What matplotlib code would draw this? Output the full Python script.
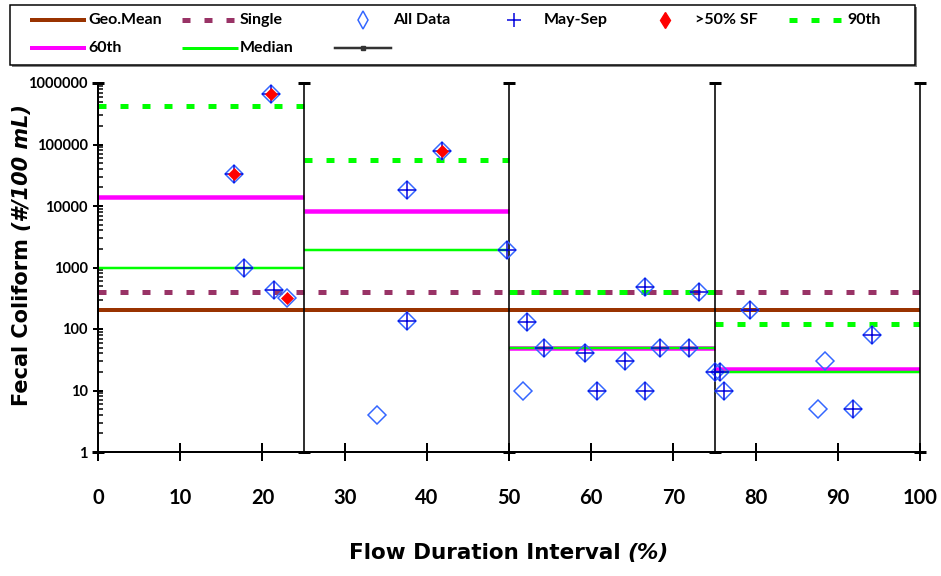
import matplotlib
matplotlib.use("Agg")
import matplotlib.pyplot as plt
from matplotlib.lines import Line2D
from matplotlib.patches import Rectangle
from matplotlib.ticker import FixedLocator, FuncFormatter, LogLocator, NullFormatter

# ---------------- data ----------------
bounds = [0, 25, 50, 75, 100]                 # flow duration zones (%)
geo_mean = 200                                 # geometric mean criterion
single_sample = 400                            # single sample criterion
p90 = [430000, 57000, 400, 120]                # 90th percentile per zone
p60 = [14000, 8300, 50, 22]                    # 60th percentile per zone
median = [1000, 1900, 50, 20]                  # median per zone

all_x = [16.6, 17.8, 21.1, 21.4, 23.0, 33.9, 37.6, 37.6, 41.9, 49.7,
         51.7, 52.2, 54.3, 59.3, 60.7, 64.1, 66.5, 66.5, 68.4, 71.9,
         73.1, 75.1, 75.7, 76.1, 79.3, 87.6, 88.4, 91.9, 94.2]
all_y = [33000, 1000, 660000, 430, 320, 4, 18000, 135, 78000, 1900,
         10, 130, 50, 40, 10, 30, 490, 10, 50, 50,
         400, 20, 20, 10, 200, 5, 30, 5, 80]

ms_x = [16.6, 17.8, 21.1, 21.4, 37.6, 37.6, 41.9, 49.7,
        52.2, 54.3, 59.3, 60.7, 64.1, 66.5, 66.5, 68.4, 71.9,
        73.1, 75.1, 75.7, 76.1, 79.3, 91.9, 94.2]
ms_y = [33000, 1000, 660000, 430, 18000, 135, 78000, 1900,
        130, 50, 40, 10, 30, 490, 10, 50, 50,
        400, 20, 20, 10, 200, 5, 80]

sf_x = [16.6, 21.1, 23.0, 41.9]
sf_y = [33000, 660000, 320, 78000]

x_ticks = list(range(0, 101, 10))
y_ticks = [1, 10, 100, 1000, 10000, 100000, 1000000]

# ---------------- styles ----------------
C_GEO = "#993300"
C_SINGLE = "#993366"
C_90 = "#00FF00"
C_60 = "#FF00FF"
C_MED = "#00FF00"
C_ALL = "#3366FF"
C_MS = "#0000DD"
C_SF = "#FF0000"
SQ_DOT = (0, (1.6, 2.8))

plt.rcParams["font.family"] = ["Lato", "DejaVu Sans"]
plt.rcParams["font.weight"] = "bold"

W, H = 941, 576
fig = plt.figure(figsize=(W / 100, H / 100), dpi=100)
px = 72 / 100  # points per pixel


def fx(p):
    return p / W


def fy(p):
    return 1 - p / H


ax = fig.add_axes([fx(98), fy(452), fx(920 - 98), (452 - 83) / H])
ax.set_yscale("log")
ax.set_xlim(0, 100)
ax.set_ylim(1, 1e6)

# reference criteria across all zones
ax.plot([bounds[0], bounds[-1]], [geo_mean, geo_mean], color=C_GEO, lw=4 * px,
        solid_capstyle="butt", zorder=2)
ax.plot([bounds[0], bounds[-1]], [single_sample, single_sample], color=C_SINGLE,
        lw=5 * px, linestyle=SQ_DOT, zorder=2)

# zone statistics
for i in range(len(p90)):
    xs = [bounds[i], bounds[i + 1]]
    ax.plot(xs, [p90[i]] * 2, color=C_90, lw=5 * px, linestyle=SQ_DOT, zorder=3)
    ax.plot(xs, [p60[i]] * 2, color=C_60, lw=4.5 * px, solid_capstyle="butt", zorder=3)
    ax.plot(xs, [median[i]] * 2, color=C_MED, lw=2.5 * px, solid_capstyle="butt", zorder=3)

# zone dividers spanning the full y range
n = len(bounds)
eb = ax.errorbar(bounds, [1] * n, yerr=[[0] * n, [999999] * n],
                 fmt="none", ecolor="black", elinewidth=1.6 * px, capsize=4,
                 capthick=3 * px, zorder=4)
for cap in eb.lines[1]:
    cap.set_clip_on(False)
for coll in eb.lines[2]:
    coll.set_clip_on(False)

# observations
ax.plot(all_x, all_y, linestyle="none", marker="D", ms=9.3, mfc="none",
        mec=C_ALL, mew=1.5 * px, zorder=5, clip_on=False)
ax.plot(ms_x, ms_y, linestyle="none", marker="+", ms=13, mec=C_MS,
        mew=1.5 * px, zorder=6, clip_on=False)
ax.plot(sf_x, sf_y, linestyle="none", marker="D", ms=5.8, mfc=C_SF,
        mec=C_SF, mew=0.5, zorder=7, clip_on=False)

# axes styling
for s in ("top", "right"):
    ax.spines[s].set_visible(False)
for s in ("left", "bottom"):
    ax.spines[s].set_linewidth(2 * px)
    ax.spines[s].set_zorder(8)

ax.xaxis.set_major_locator(FixedLocator(x_ticks))
ax.xaxis.set_major_formatter(FuncFormatter(lambda v, _: f"{int(round(v))}"))
ax.yaxis.set_major_locator(FixedLocator(y_ticks))
ax.yaxis.set_major_formatter(FuncFormatter(lambda v, _: f"{int(round(v))}"))
ax.yaxis.set_minor_locator(LogLocator(base=10, subs=range(2, 10)))
ax.yaxis.set_minor_formatter(NullFormatter())

ax.tick_params(axis="x", which="major", direction="inout", length=18 * px,
               width=2 * px, pad=27 * px, labelsize=14.5)
ax.tick_params(axis="y", which="major", direction="inout", length=10 * px,
               width=2 * px, pad=5 * px, labelsize=10.5)
ax.tick_params(axis="y", which="minor", direction="in", length=5 * px,
               width=1.5 * px)
for lab in ax.get_xticklabels() + ax.get_yticklabels():
    lab.set_fontweight("bold")


# axis titles with italic units
def place_pieces(pieces, cx, cy, rotation, size, family):
    r = fig.canvas.get_renderer()
    texts = []
    for s, style in pieces:
        t = fig.text(0, 0, s, fontsize=size, fontstyle=style, fontweight="bold",
                     family=family, rotation=rotation, rotation_mode="anchor",
                     ha="left", va="baseline")
        texts.append(t)
    gap = size / px * 0.32
    sizes = []
    for t in texts:
        bb = t.get_window_extent(r)
        sizes.append(bb.width if rotation == 0 else bb.height)
    total = sum(sizes) + gap * (len(texts) - 1)
    pos = (cx - total / 2) if rotation == 0 else (cy + total / 2)
    for t, sz in zip(texts, sizes):
        if rotation == 0:
            t.set_position((fx(pos), fy(cy)))
            pos += sz + gap
        else:
            t.set_position((fx(cx), fy(pos)))
            pos -= sz + gap


place_pieces([("Flow Duration Interval", "normal"), ("(%)", "italic")],
             cx=509, cy=559, rotation=0, size=15.5, family=["DejaVu Sans"])
place_pieces([("Fecal Coliform", "normal"), ("(#/100 mL)", "italic")],
             cx=28, cy=255, rotation=90, size=15, family=["DejaVu Sans"])

# legend box
fig.patches.append(Rectangle((fx(12), fy(67)), fx(905), (67 - 7) / H,
                             transform=fig.transFigure, facecolor="#808080",
                             edgecolor="none", zorder=0))
fig.patches.append(Rectangle((fx(10), fy(65)), fx(905), (65 - 5) / H,
                             transform=fig.transFigure, facecolor="white",
                             edgecolor="black", lw=1.5 * px, zorder=1))

col_x = [30, 182, 335, 486, 637, 789]
row_y = [20, 48]
hl = 56
entries = [
    (0, 0, "Geo.Mean", dict(color=C_GEO, lw=4 * px, solid_capstyle="butt")),
    (1, 0, "Single", dict(color=C_SINGLE, lw=5 * px, linestyle=SQ_DOT)),
    (2, 0, "All Data", dict(linestyle="none", marker="d", ms=9, mfc="none",
                            mec=C_ALL, mew=1.5 * px)),
    (3, 0, "May-Sep", dict(linestyle="none", marker="+", ms=10, mec=C_MS,
                           mew=1.5 * px)),
    (4, 0, ">50% SF", dict(linestyle="none", marker="d", ms=8, mfc=C_SF,
                           mec=C_SF)),
    (5, 0, "90th", dict(color=C_90, lw=5 * px, linestyle=SQ_DOT)),
    (0, 1, "60th", dict(color=C_60, lw=4 * px, solid_capstyle="butt")),
    (1, 1, "Median", dict(color=C_MED, lw=3 * px, solid_capstyle="butt")),
    (2, 1, "", dict(color="#333333", lw=2.5 * px, marker="s", ms=3.5,
                    markevery=[1])),
]
for c, r_, label, kw in entries:
    x0 = col_x[c]
    y0 = row_y[r_]
    if kw.get("linestyle") == "none":
        line = Line2D([fx(x0 + hl / 2)], [fy(y0)], transform=fig.transFigure, **kw)
    else:
        line = Line2D([fx(x0), fx(x0 + hl / 2), fx(x0 + hl)], [fy(y0)] * 3,
                      transform=fig.transFigure, **kw)
    line.set_zorder(3)
    fig.lines.append(line)
    if label:
        fig.text(fx(x0 + hl + 2), fy(y0), label, fontsize=11.5, fontweight="bold",
                 ha="left", va="center", zorder=3)

fig.savefig("out.png", dpi=100)
